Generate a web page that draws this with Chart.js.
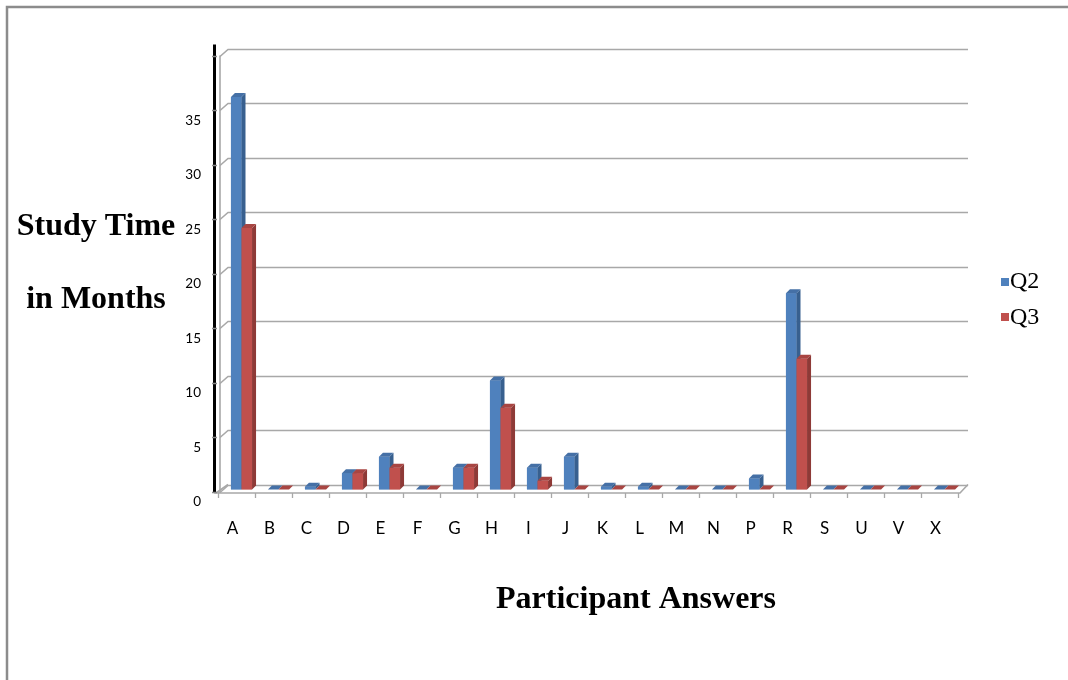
<!DOCTYPE html>
<html>
<head>
<meta charset="utf-8">
<title>Study Time in Months</title>
<script src="https://cdn.jsdelivr.net/npm/chart.js@4"></script>
<style>
  html, body { margin: 0; padding: 0; background: #ffffff; }
  #wrap { width: 1068px; height: 680px; position: relative; }
</style>
</head>
<body>
<div id="wrap"><canvas id="chart" width="1068" height="680"></canvas></div>
<script>
// Participant answer categories along the x axis
const categories = ['A', 'B', 'C', 'D', 'E', 'F', 'G', 'H', 'I', 'J',
                    'K', 'L', 'M', 'N', 'P', 'R', 'S', 'U', 'V', 'X'];
// Study time in months per answer
const q2Values = [36, 0, 0.25, 1.5, 3, 0, 2, 10, 2, 3, 0.25, 0.25, 0, 0, 1, 18, 0, 0, 0, 0];
const q3Values = [24, 0, 0, 1.5, 2, 0, 2, 7.5, 0.8, 0, 0, 0, 0, 0, 0, 12, 0, 0, 0, 0];
const seriesNames = ['Q2', 'Q3'];
// Value axis
const yMax = 40;
const yStep = 5;
const yTickLabels = [0, 5, 10, 15, 20, 25, 30, 35];

const yTitleLines = ['Study Time', 'in Months'];
const xTitle = 'Participant Answers';

const palette = {
  front: ['#4F81BD', '#C0504D'],
  side:  ['#38608F', '#8E3A37'],
  top:   ['#4570A6', '#A84542']
};

// Depth of the extruded column faces
const DEPTH_X = 4;
const DEPTH_Y = 4;

const serifBold = 'bold 32px "Liberation Serif", "Times New Roman", serif';
const serifLegend = '24px "Liberation Serif", "Times New Roman", serif';

const pseudo3d = {
  id: 'pseudo3d',
  beforeDatasetsDraw(chart) {
    const { ctx, scales: { x, y } } = chart;
    const L = x.left, R = x.right;
    const catW = (R - L) / categories.length;
    const back = v => y.getPixelForValue(v) - 5;
    const floorY = y.getPixelForValue(0) + 3.5;

    ctx.save();
    ctx.lineCap = 'butt';
    // Back wall gridlines and their run along the left wall
    ctx.strokeStyle = '#a8a8a8';
    ctx.lineWidth = 1.6;
    for (let v = 0; v <= yMax; v += yStep) {
      const yy = Math.round(back(v)) + 0.5;
      ctx.beginPath();
      ctx.moveTo(L - 3, yy + 7);
      ctx.lineTo(L + 5, yy);
      ctx.lineTo(R + 5, yy);
      ctx.stroke();
    }
    // Left wall front edge
    ctx.beginPath();
    ctx.moveTo(L - 3, back(yMax) + 7);
    ctx.lineTo(L - 3, floorY);
    ctx.stroke();
    // Floor outline
    ctx.beginPath();
    ctx.moveTo(L + 5, back(0));
    ctx.lineTo(L - 7, floorY);
    ctx.lineTo(R - 3, floorY);
    ctx.lineTo(R + 5, back(0));
    ctx.stroke();
    // Category ticks under the floor
    ctx.lineWidth = 1.3;
    for (let k = 0; k <= categories.length; k++) {
      const tx = Math.round(L - 5.5 + k * catW) + 0.5;
      ctx.beginPath();
      ctx.moveTo(tx, floorY);
      ctx.lineTo(tx, floorY + 5);
      ctx.stroke();
    }
    // Value axis line
    ctx.strokeStyle = '#000000';
    ctx.lineWidth = 3;
    ctx.beginPath();
    ctx.moveTo(L - 8.5, back(yMax) - 4);
    ctx.lineTo(L - 8.5, floorY);
    ctx.stroke();
    // Small tick marks on the value axis
    ctx.strokeStyle = '#8a8a8a';
    ctx.lineWidth = 1.5;
    for (let v = 0; v <= yMax; v += yStep) {
      const yy = Math.round(back(v) + 7) + 0.5;
      ctx.beginPath();
      ctx.moveTo(L - 11, yy);
      ctx.lineTo(L - 6, yy);
      ctx.stroke();
    }
    ctx.restore();
  },
  afterDatasetsDraw(chart) {
    const { ctx } = chart;
    const metas = [chart.getDatasetMeta(0), chart.getDatasetMeta(1)];
    ctx.save();
    for (let i = 0; i < categories.length; i++) {
      metas.forEach((meta, d) => {
        const bar = meta.data[i];
        if (!bar) return;
        const { x, y, base, width } = bar.getProps(['x', 'y', 'base', 'width'], true);
        const x0 = x - width / 2, x1 = x + width / 2;
        const top = Math.min(y, base), bottom = Math.max(y, base);
        // front face
        ctx.fillStyle = palette.front[d];
        ctx.fillRect(x0, top, x1 - x0, bottom - top);
        // right side face
        ctx.fillStyle = palette.side[d];
        ctx.beginPath();
        ctx.moveTo(x1, top);
        ctx.lineTo(x1 + DEPTH_X, top - DEPTH_Y);
        ctx.lineTo(x1 + DEPTH_X, bottom - DEPTH_Y);
        ctx.lineTo(x1, bottom);
        ctx.closePath();
        ctx.fill();
        // top face
        ctx.fillStyle = palette.top[d];
        ctx.beginPath();
        ctx.moveTo(x0, top);
        ctx.lineTo(x1, top);
        ctx.lineTo(x1 + DEPTH_X, top - DEPTH_Y);
        ctx.lineTo(x0 + DEPTH_X, top - DEPTH_Y);
        ctx.closePath();
        ctx.fill();
      });
    }
    ctx.restore();
  },
  afterDraw(chart) {
    const { ctx } = chart;
    ctx.save();
    ctx.fillStyle = '#000000';
    // Axis titles
    ctx.font = serifBold;
    ctx.textAlign = 'center';
    ctx.textBaseline = 'alphabetic';
    ctx.fillText(yTitleLines[0], 96, 235);
    ctx.fillText(yTitleLines[1], 96, 308);
    ctx.fillText(xTitle, 636, 608);
    // Legend
    ctx.font = serifLegend;
    ctx.textAlign = 'left';
    const legendRows = [{ box: 278, base: 288 }, { box: 313, base: 324 }];
    seriesNames.forEach((name, d) => {
      ctx.fillStyle = palette.front[d];
      ctx.fillRect(1001, legendRows[d].box, 8, 8);
      ctx.fillStyle = '#000000';
      ctx.fillText(name, 1010, legendRows[d].base);
    });
    // Outer frame
    ctx.strokeStyle = '#8c8c8c';
    ctx.lineWidth = 2.5;
    ctx.beginPath();
    ctx.moveTo(7, 680);
    ctx.lineTo(7, 7);
    ctx.lineTo(1068, 7);
    ctx.stroke();
    ctx.restore();
  }
};

new Chart(document.getElementById('chart'), {
  type: 'bar',
  data: {
    labels: categories,
    datasets: [
      { label: seriesNames[0], data: q2Values, backgroundColor: palette.front[0] },
      { label: seriesNames[1], data: q3Values, backgroundColor: palette.front[1] }
    ]
  },
  options: {
    responsive: false,
    animation: false,
    devicePixelRatio: 1,
    categoryPercentage: 0.57,
    barPercentage: 1.0,
    layout: { padding: { top: 53.5, right: 105, bottom: 0, left: 0 } },
    plugins: {
      legend: { display: false },
      tooltip: { enabled: false }
    },
    scales: {
      x: {
        grid: { display: false, drawTicks: false },
        border: { display: false },
        ticks: {
          labelOffset: -9,
          padding: 29,
          color: '#000000',
          font: { family: 'Lato, "Open Sans", sans-serif', size: 17 },
          autoSkip: false,
          maxRotation: 0
        },
        afterFit(scale) { scale.height = 190.5; }
      },
      y: {
        min: 0,
        max: yMax,
        grid: { display: false, drawTicks: false },
        border: { display: false },
        ticks: {
          stepSize: yStep,
          padding: 22,
          labelOffset: 12.5,
          color: '#000000',
          font: { family: 'Lato, "Open Sans", sans-serif', size: 13.5 },
          callback: v => (yTickLabels.includes(v) ? String(v) : '')
        },
        afterFit(scale) { scale.width = 223; }
      }
    }
  },
  plugins: [pseudo3d]
});
</script>
</body>
</html>
